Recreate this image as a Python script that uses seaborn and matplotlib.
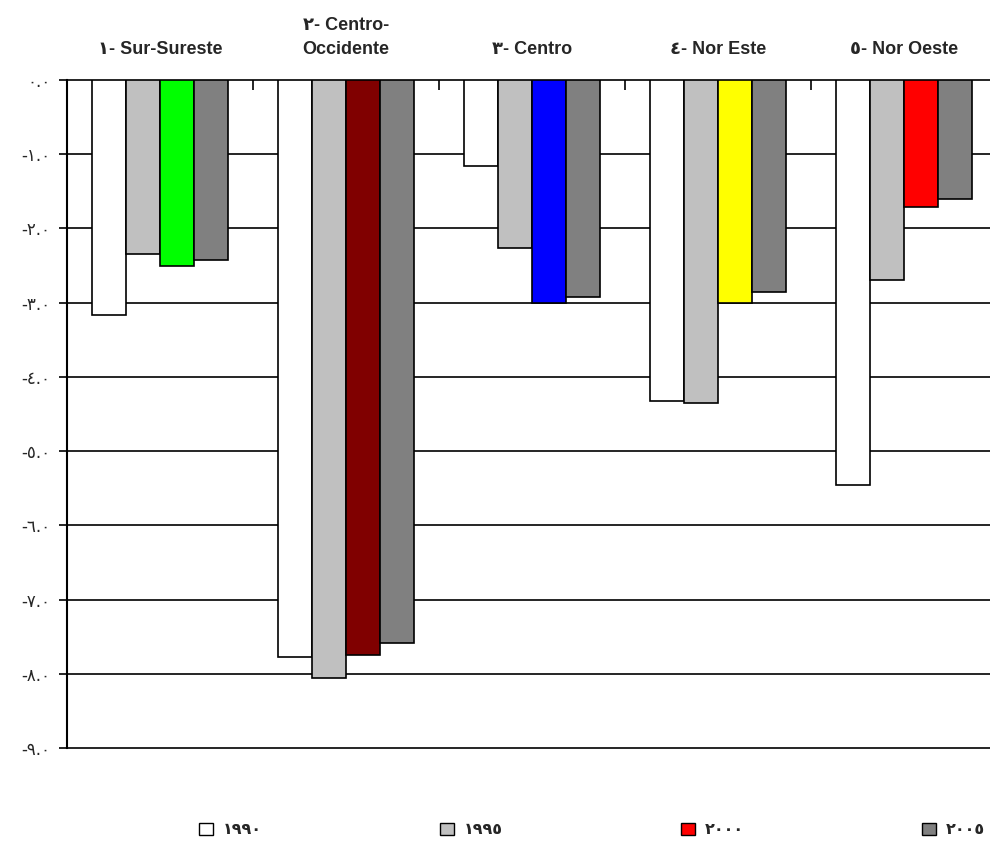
import matplotlib
matplotlib.use("Agg")
import matplotlib.pyplot as plt
import seaborn as sns
import pandas as pd
from matplotlib.patches import Patch

regions = ["١- Sur-Sureste", "٢- Centro-\nOccidente", "٣- Centro", "٤- Nor Este", "٥- Nor Oeste"]
years = ["١٩٩٠", "١٩٩٥", "٢٠٠٠", "٢٠٠٥"]
v1990 = [-3.17, -7.78, -1.16, -4.33, -5.46]
v1995 = [-2.35, -8.06, -2.27, -4.35, -2.70]
v2000 = [-2.51, -7.75, -3.00, -3.00, -1.71]
v2005 = [-2.43, -7.58, -2.93, -2.86, -1.61]
year_colors = ["#FFFFFF", "#C0C0C0", "#FF0000", "#808080"]
colors_2000 = ["#00FF00", "#800000", "#0000FF", "#FFFF00", "#FF0000"]
yticks = [0, -1, -2, -3, -4, -5, -6, -7, -8, -9]
ytick_labels = ["٠.٠", "-١.٠", "-٢.٠", "-٣.٠", "-٤.٠", "-٥.٠", "-٦.٠", "-٧.٠", "-٨.٠", "-٩.٠"]

rows = []
for yr, vals in zip(years, [v1990, v1995, v2000, v2005]):
    for r, v in zip(regions, vals):
        rows.append({"region": r, "year": yr, "value": v})
df = pd.DataFrame(rows)

sns.set_theme(style="white")
plt.rcParams['font.family'] = ['Liberation Sans', 'DejaVu Sans']

fig = plt.figure(figsize=(9.9, 8.42), dpi=100)
W, H = 990, 842
ax = fig.add_axes([67 / W, 1 - 748 / H, 1 - 67 / W, 668 / H])

sns.barplot(data=df, x="region", y="value", hue="year", order=regions, hue_order=years,
            palette=year_colors, width=0.735, edgecolor="black", linewidth=1.2,
            saturation=1, legend=False, ax=ax, zorder=3)

for j, c in enumerate(colors_2000):
    ax.containers[2][j].set_facecolor(c)

ax.set_ylim(-9, 0)
ax.set_xlim(-0.5, 4.5 - 7 / 186)
ax.set_yticks(yticks)
ax.set_yticklabels(ytick_labels, fontsize=12, family=['DejaVu Sans'])
ax.yaxis.grid(True, color="black", linewidth=1.2, zorder=0)
for gl in ax.get_ygridlines():
    gl.set_clip_on(False)
ax.set_axisbelow(True)
ax.set_xlabel("")
ax.set_ylabel("")
for s in ["top", "right", "bottom"]:
    ax.spines[s].set_visible(False)
ax.spines["left"].set_color("black")
ax.spines["left"].set_linewidth(1.5)
ax.tick_params(axis="y", direction="out", length=6, width=1.2, color="black", left=True, pad=6)

# top group boundary ticks
ax.xaxis.tick_top()
ax.set_xticks([0.5, 1.5, 2.5, 3.5])
ax.set_xticklabels([])
ax.tick_params(axis="x", top=True, direction="in", length=7, width=1.2, color="black")

for i, r in enumerate(regions):
    ax.text(i, 1.0 + 22 / 668, r, transform=ax.get_xaxis_transform(), ha="center", va="bottom",
            fontsize=13, fontweight="bold", family=['Liberation Sans', 'DejaVu Sans'],
            linespacing=1.5)

handles = [Patch(facecolor=c, edgecolor="black", linewidth=1) for c in year_colors]
fig.legend(handles, years, loc="center", bbox_to_anchor=(592 / W, 1 - 830 / H), ncol=4,
           frameon=False, columnspacing=11.2, handlelength=0.85, handleheight=0.85,
           handletextpad=0.6, prop={"family": "DejaVu Sans", "weight": "bold", "size": 11.5})

fig.savefig("out.png", dpi=100)
